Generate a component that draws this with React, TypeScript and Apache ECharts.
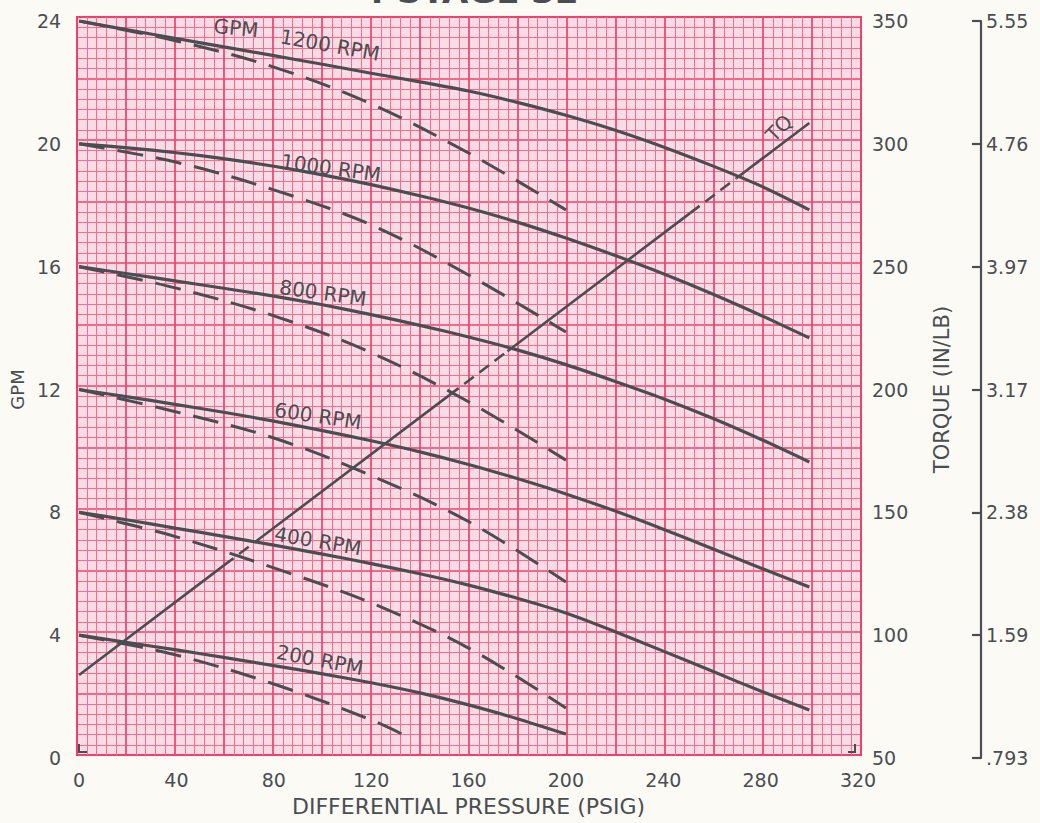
import React, { useEffect, useRef } from "react";
import * as echarts from "echarts";

// ---- data ----
const psigSolid = [0, 20, 40, 60, 80, 100, 120, 140, 160, 180, 200, 220, 240, 260, 280, 300];
const gpm1200 = [24.0, 23.71, 23.43, 23.15, 22.87, 22.59, 22.3, 22.02, 21.72, 21.35, 20.93, 20.45, 19.9, 19.29, 18.63, 17.85];
const gpm1000 = [20.0, 19.87, 19.71, 19.51, 19.27, 18.99, 18.67, 18.31, 17.91, 17.45, 16.93, 16.37, 15.77, 15.12, 14.42, 13.68];
const gpm800 = [16.0, 15.77, 15.53, 15.29, 15.04, 14.76, 14.44, 14.09, 13.71, 13.29, 12.81, 12.27, 11.7, 11.07, 10.38, 9.64];
const gpm600 = [12.0, 11.76, 11.51, 11.25, 10.97, 10.66, 10.33, 9.97, 9.56, 9.1, 8.6, 8.05, 7.45, 6.82, 6.19, 5.57];
const gpm400 = [8.0, 7.75, 7.48, 7.21, 6.93, 6.64, 6.33, 6.0, 5.63, 5.2, 4.72, 4.12, 3.48, 2.83, 2.18, 1.56];
const psig200Solid = [0, 20, 40, 60, 80, 100, 120, 140, 160, 180, 200];
const gpm200 = [4.0, 3.76, 3.52, 3.27, 3.01, 2.74, 2.45, 2.12, 1.73, 1.28, 0.78];

const psigDash = [0, 40, 80, 120, 160, 200];
const dash1200 = [24.0, 23.35, 22.5, 21.3, 19.7, 17.85];
const dash1000 = [20.0, 19.4, 18.5, 17.36, 15.73, 13.87];
const dash800 = [16.0, 15.3, 14.4, 13.2, 11.6, 9.7];
const dash600 = [12.0, 11.27, 10.42, 9.2, 7.7, 5.73];
const dash400 = [8.0, 7.2, 6.19, 5.05, 3.58, 1.63];
const psig200Dash = [0, 40, 80, 120, 136];
const dash200 = [4.0, 3.35, 2.41, 1.24, 0.65];

// torque line, broken into pieces (solid / dashed)
const tqPsig = [0, 59.5, 72, 152, 176, 251, 270, 300];
const tqTorque = [83.8, 128.4, 137.7, 197.6, 215.6, 271.8, 286.0, 308.5];
const tqDashed = [false, true, false, true, false, true, false];

const curveLabels = ["GPM", "1200 RPM", "1000 RPM", "800 RPM", "600 RPM", "400 RPM", "200 RPM", "TQ"];
const nmLabels = [".793", "1.59", "2.38", "3.17", "3.97", "4.76", "5.55"];
const torqueTicks = [50, 100, 150, 200, 250, 300, 350];

const INK = "#4a4e52";
const FONT = "'DejaVu Sans', sans-serif";

function pairs(xs: number[], ys: number[]) {
  return xs.map((x, i) => [x, ys[i]]);
}

export default function App() {
  const ref = useRef<HTMLDivElement>(null);
  useEffect(() => {
    if (!ref.current) return;
    const chart = echarts.init(ref.current, null, { renderer: "svg" });

    const series: any[] = [];
    const solid = (name: string, xs: number[], ys: number[]) =>
      series.push({
        name, type: "line", xAxisIndex: 1, yAxisIndex: 1, data: pairs(xs, ys),
        smooth: 0.25, showSymbol: false, symbol: "none",
        lineStyle: { color: INK, width: 3.2 }, z: 5,
      });
    const dashed = (name: string, xs: number[], ys: number[]) =>
      series.push({
        name, type: "line", xAxisIndex: 1, yAxisIndex: 1, data: pairs(xs, ys),
        smooth: 0.35, showSymbol: false, symbol: "none",
        lineStyle: { color: INK, width: 3, type: [26, 13] }, z: 4,
      });
    solid("1200", psigSolid, gpm1200);
    solid("1000", psigSolid, gpm1000);
    solid("800", psigSolid, gpm800);
    solid("600", psigSolid, gpm600);
    solid("400", psigSolid, gpm400);
    solid("200", psig200Solid, gpm200);
    dashed("1200d", psigDash, dash1200);
    dashed("1000d", psigDash, dash1000);
    dashed("800d", psigDash, dash800);
    dashed("600d", psigDash, dash600);
    dashed("400d", psigDash, dash400);
    dashed("200d", psig200Dash, dash200);
    for (let i = 0; i < tqDashed.length; i++) {
      series.push({
        name: "TQ" + i, type: "line", xAxisIndex: 1, yAxisIndex: 2,
        data: [[tqPsig[i], tqTorque[i]], [tqPsig[i + 1], tqTorque[i + 1]]],
        showSymbol: false, symbol: "none",
        lineStyle: { color: INK, width: 2.6, type: tqDashed[i] ? [12, 7] : "solid" }, z: 5,
      });
    }

    const labelPos = [
      { x: 236, y: 28, r: -0.1 },
      { x: 330, y: 45, r: -0.18 },
      { x: 331, y: 168, r: -0.14 },
      { x: 323, y: 293, r: -0.14 },
      { x: 318, y: 416, r: -0.15 },
      { x: 318, y: 541, r: -0.17 },
      { x: 320, y: 660, r: -0.19 },
      { x: 779, y: 128, r: 0.8 },
    ];
    const graphics: any[] = curveLabels.map((t, i) => ({
      type: "text", x: labelPos[i].x, y: labelPos[i].y, rotation: labelPos[i].r, z: 20,
      style: { text: t, fill: INK, font: `20px ${FONT}`, align: "center", verticalAlign: "middle" },
    }));
    graphics.push({
      type: "text", x: 470, y: 8, z: 20,
      style: { text: "4 STAGE 32", fill: INK, font: `bold 34px ${FONT}`, align: "center", verticalAlign: "bottom" },
    });
    graphics.push({
      type: "polyline", z: 20,
      shape: { points: [[79, 744], [79, 752], [87, 752]] },
      style: { stroke: INK, lineWidth: 2, fill: "none" },
    });
    graphics.push({
      type: "polyline", z: 20,
      shape: { points: [[848, 752], [855, 752], [855, 744]] },
      style: { stroke: INK, lineWidth: 2, fill: "none" },
    });

    const hiddenAxisBits = {
      axisLine: { show: false }, axisTick: { show: false }, axisLabel: { show: false },
    };

    chart.setOption({
      animation: false,
      backgroundColor: "#fbfaf5",
      textStyle: { fontFamily: FONT },
      grid: [
        { left: 77, right: 179, top: 17, bottom: 68, show: true, backgroundColor: "#f8dce5", borderColor: "#f0406b", borderWidth: 2, z: 0 },
        { left: 78, right: 182, top: 21, bottom: 65, show: false },
      ],
      xAxis: [
        {
          type: "value", gridIndex: 0, min: 0, max: 16, interval: 1, ...hiddenAxisBits,
          splitLine: { show: true, lineStyle: { color: "#f0406b", width: 1.7 } },
          minorTick: { show: false, splitNumber: 5 },
          minorSplitLine: { show: true, lineStyle: { color: "#fa6b8d", width: 1 } },
        },
        {
          type: "value", gridIndex: 1, min: 0, max: 320, interval: 40,
          axisLine: { show: false }, axisTick: { show: false }, splitLine: { show: false },
          axisLabel: { color: INK, fontSize: 19, margin: 12, fontFamily: FONT },
          name: "DIFFERENTIAL PRESSURE (PSIG)", nameLocation: "middle", nameGap: 37,
          nameTextStyle: { color: INK, fontSize: 22, fontFamily: FONT },
        },
      ],
      yAxis: [
        {
          type: "value", gridIndex: 0, min: 0, max: 12, interval: 1, ...hiddenAxisBits,
          splitLine: { show: true, lineStyle: { color: "#f0406b", width: 1.7 } },
          minorTick: { show: false, splitNumber: 6 },
          minorSplitLine: { show: true, lineStyle: { color: "#fa6b8d", width: 1 } },
        },
        {
          type: "value", gridIndex: 1, min: 0, max: 24, interval: 4, position: "left",
          axisLine: { show: false }, axisTick: { show: false }, splitLine: { show: false },
          axisLabel: { color: INK, fontSize: 19, margin: 18, fontFamily: FONT },
          name: "GPM", nameLocation: "middle", nameGap: 42, nameRotate: 90,
          nameTextStyle: { color: INK, fontSize: 18, fontFamily: FONT },
        },
        {
          type: "value", gridIndex: 1, min: 50, max: 350, interval: 50, position: "right",
          axisLine: { show: false }, axisTick: { show: false }, splitLine: { show: false },
          axisLabel: { color: INK, fontSize: 19, margin: 14, fontFamily: FONT },
          name: "TORQUE (IN/LB)", nameLocation: "middle", nameGap: 73, nameRotate: 90,
          nameTextStyle: { color: INK, fontSize: 21, fontFamily: FONT },
        },
        {
          type: "value", gridIndex: 1, min: 50, max: 350, interval: 50, position: "right", offset: 123,
          axisLine: { show: true, lineStyle: { color: INK, width: 2.2 } },
          axisTick: { show: true, inside: true, length: 9, lineStyle: { color: INK, width: 2.2 } },
          splitLine: { show: false },
          axisLabel: {
            color: INK, fontSize: 19, margin: 5, fontFamily: FONT,
            formatter: (v: number) => nmLabels[torqueTicks.indexOf(Math.round(v))] ?? "",
          },
        },
      ],
      series,
      graphic: graphics,
    });
    return () => chart.dispose();
  }, []);
  return (
    <div
      ref={ref}
      style={{ position: "fixed", left: 0, top: 0, width: 1040, height: 823 }}
    />
  );
}
